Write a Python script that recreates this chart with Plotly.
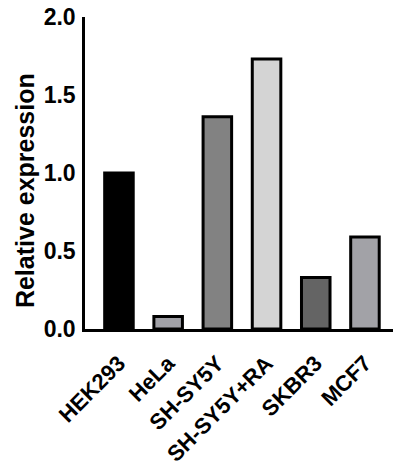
import plotly.graph_objects as go

# Relative expression per cell line
cell_lines = ["HEK293", "HeLa", "SH-SY5Y", "SH-SY5Y+RA", "SKBR3", "MCF7"]
expression = [1.0, 0.08, 1.36, 1.73, 0.33, 0.59]
bar_colors = ["#000000", "#a1a1a7", "#828282", "#d4d4d4", "#646464", "#a2a2a7"]
y_ticks = [0.0, 0.5, 1.0, 1.5, 2.0]

font_family = "Liberation Sans, Arial, sans-serif"

fig = go.Figure(
    go.Bar(
        x=cell_lines,
        y=expression,
        width=0.58,
        marker=dict(color=bar_colors, line=dict(color="black", width=3)),
    )
)

fig.update_layout(
    width=394,
    height=466,
    margin=dict(l=85, r=1, t=17, b=137),
    paper_bgcolor="white",
    plot_bgcolor="white",
    showlegend=False,
    font=dict(family=font_family, color="black"),
)

fig.update_xaxes(
    range=[-0.69, 5.57],
    automargin=False,
    showline=True,
    linecolor="black",
    linewidth=2.5,
    ticks="",
    tickangle=-45,
    ticklabelstandoff=10,
    tickfont=dict(size=22, family=font_family, weight="bold"),
    showgrid=False,
    zeroline=False,
)

fig.update_yaxes(
    range=[0, 2.0],
    automargin=False,
    tickvals=y_ticks,
    ticktext=[f"{v:.1f}" for v in y_ticks],
    showline=True,
    linecolor="black",
    linewidth=2.5,
    ticks="",
    ticklabelstandoff=2,
    tickfont=dict(size=23, family=font_family, weight="bold"),
    showgrid=False,
    zeroline=False,
)

fig.add_annotation(
    text="<b>Relative expression</b>",
    textangle=-90,
    xref="paper",
    yref="paper",
    x=-0.195,
    y=0.445,
    xanchor="center",
    yanchor="middle",
    showarrow=False,
    font=dict(size=25, family=font_family, color="black"),
)

fig.write_html("out.html")
